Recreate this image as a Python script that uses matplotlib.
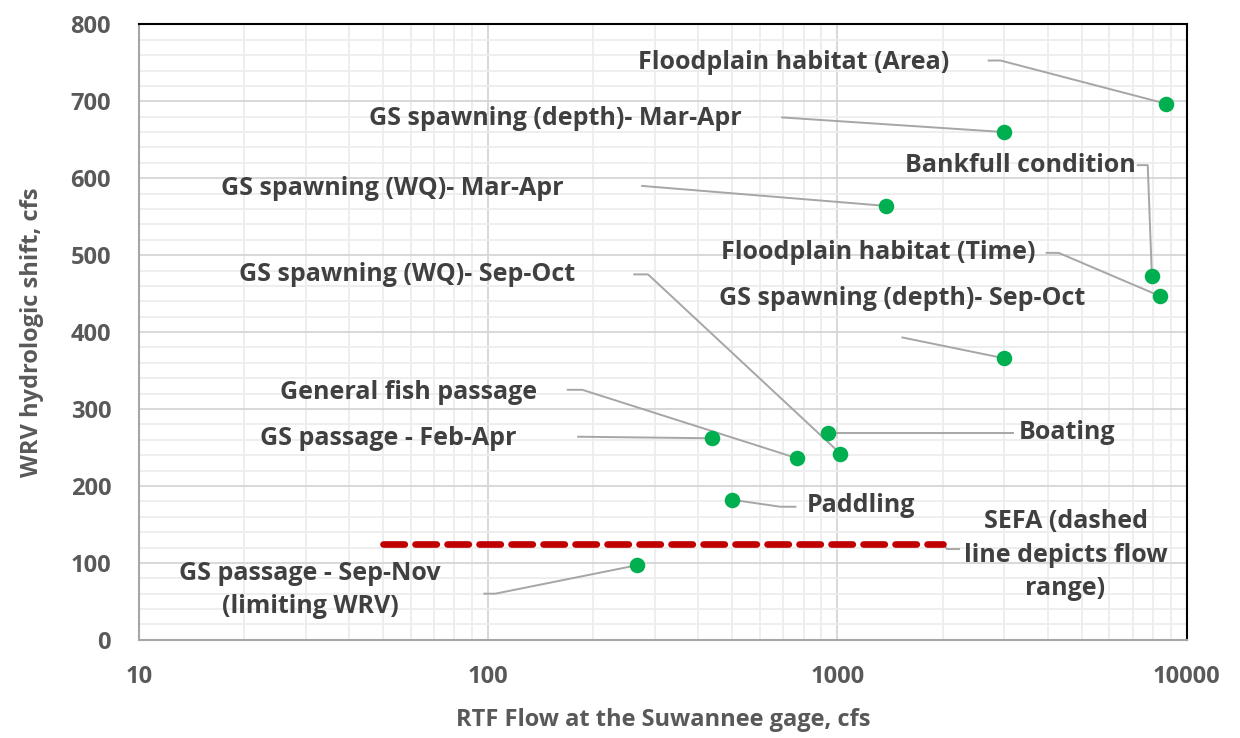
import numpy as np
import matplotlib
matplotlib.use("Agg")
import matplotlib.pyplot as plt
from matplotlib.ticker import FixedLocator, NullFormatter

# data
names = ["Floodplain habitat (Area)", "GS spawning (depth)- Mar-Apr",
         "GS spawning (WQ)- Mar-Apr", "Bankfull condition",
         "Floodplain habitat (Time)", "GS spawning (depth)- Sep-Oct",
         "GS spawning (WQ)- Sep-Oct", "General fish passage",
         "GS passage - Feb-Apr", "Boating", "Paddling",
         "GS passage - Sep-Nov\n(limiting WRV)"]
flow = [8700, 3000, 1380, 7950, 8370, 3000, 1020, 767, 438, 942, 500, 267]
shift = [697, 660, 564, 473, 447, 366, 242, 236, 262, 269, 182, 97]

sefa_flow = [50, 2000]
sefa_shift = [125, 125]
sefa_label = "SEFA (dashed\nline depicts flow\nrange)"

xticks = [10, 100, 1000, 10000]
yticks = [0, 100, 200, 300, 400, 500, 600, 700, 800]

# label placement (text centre) and leader start points, data coords
label_pos = [(748, 751), (156, 678), (53, 587), (3340, 617), (1309, 504),
             (1535, 444), (58.6, 475), (59, 322), (51.7, 262), (4530, 269),
             (1164, 174), (30.9, 65)]
leaders = [[(2711, 753), (2931, 753)], [(695, 679)], [(276, 590)],
           [(7245, 617), (7735, 617)], [(3972, 503), (4299, 503)],
           [(1535, 393)], [(262, 475), (287, 475)], [(169, 325), (186, 325)],
           [(181, 264)], [(3192, 269)], [(758, 173), (687, 173)],
           [(97.5, 60), (104.8, 60)]]

txt = "#404040"
tick_col = "#595959"
font = "Open Sans"
fs = 17

fig = plt.figure(figsize=(12.4, 7.38), dpi=100)
ax = fig.add_axes([0.112, 0.133, 0.845, 0.834])

ax.set_xscale("log")
ax.set_xlim(10, 10000)
ax.set_ylim(0, 800)

# gridlines like excel
ax.xaxis.set_major_locator(FixedLocator(xticks))
minx = [m * 10 ** e for e in range(1, 4) for m in range(2, 10)]
ax.xaxis.set_minor_locator(FixedLocator(minx))
ax.xaxis.set_minor_formatter(NullFormatter())
ax.yaxis.set_major_locator(FixedLocator(yticks))
ax.yaxis.set_minor_locator(FixedLocator(np.arange(0, 801, 20)))
ax.grid(which="minor", color="#EDEDED", lw=1.3, zorder=0)
ax.grid(which="major", color="#D6D6D6", lw=1.3, zorder=0)
ax.tick_params(which="both", length=0)
ax.tick_params(axis="x", pad=18)
ax.tick_params(axis="y", pad=20)
ax.set_axisbelow(True)

ax.set_xticklabels([str(t) for t in xticks], fontfamily=font,
                   fontweight="bold", fontsize=fs, color=tick_col)
ax.set_yticklabels([str(t) for t in yticks], fontfamily=font,
                   fontweight="bold", fontsize=fs, color=tick_col)

ax.spines["top"].set_color("black")
ax.spines["right"].set_color("black")
ax.spines["left"].set_color("#A6A6A6")
ax.spines["bottom"].set_color("#A6A6A6")
for s in ax.spines.values():
    s.set_linewidth(1.5)

# leader lines
for (px, py), lead in zip(zip(flow, shift), leaders):
    xs = [p[0] for p in lead] + [px]
    ys = [p[1] for p in lead] + [py]
    ax.plot(xs, ys, color="#A6A6A6", lw=1.4, zorder=2)
ax.plot([sefa_flow[1], 2060, 2230], [sefa_shift[1], 118, 118],
        color="#A6A6A6", lw=1.4, zorder=2)

# SEFA range
ax.plot(sefa_flow, sefa_shift, color="#C00000", lw=4.8,
        dashes=(3.2, 1.6), dash_capstyle="round", zorder=3)

ax.scatter(flow, shift, s=125, color="#00B050", zorder=4, linewidths=0)

for name, (tx, ty) in zip(names, label_pos):
    ax.text(tx, ty, name, ha="center", va="center", fontfamily=font,
            fontweight="bold", fontsize=18, color=txt, linespacing=1.4)
ax.text(4500, 110, sefa_label, ha="center", va="center", fontfamily=font,
        fontweight="bold", fontsize=18, color=txt, linespacing=1.45)

ax.set_xlabel("RTF Flow at the Suwannee gage, cfs", fontfamily=font,
              fontweight="bold", fontsize=fs, color=tick_col, labelpad=14)
ax.set_ylabel("WRV hydrologic shift, cfs", fontfamily=font,
              fontweight="bold", fontsize=fs, color=tick_col, labelpad=19)

fig.savefig("out.png", dpi=100)
